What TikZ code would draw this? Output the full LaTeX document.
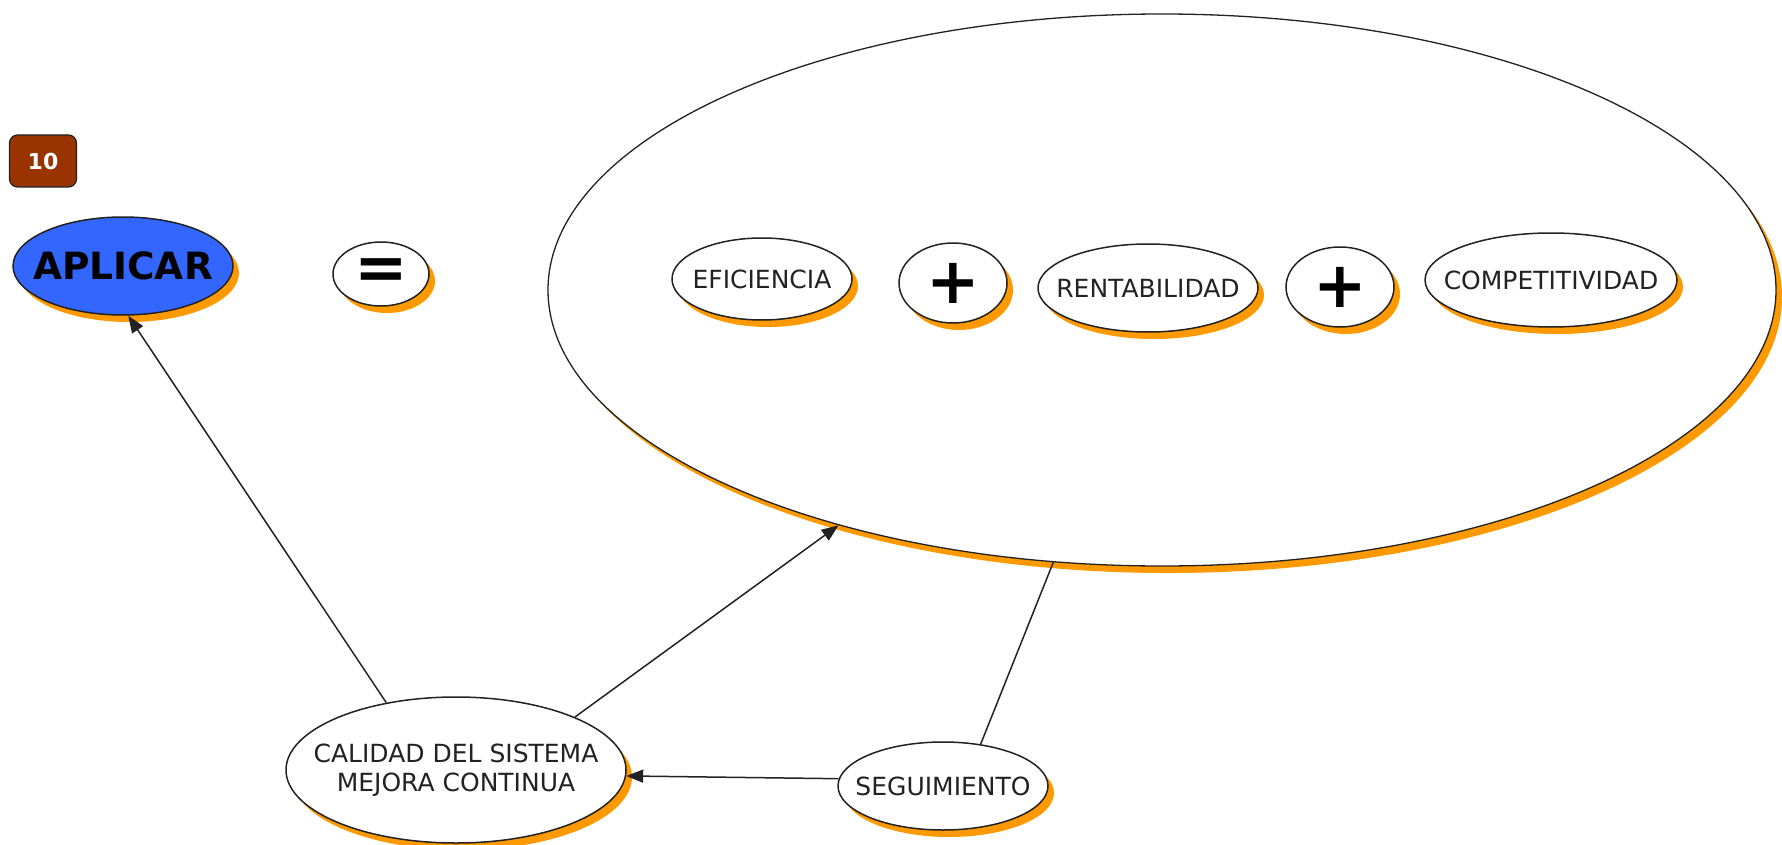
\documentclass[tikz,border=0pt]{standalone}
\usepackage{fontspec}
\setmainfont{DejaVu Sans}
\usetikzlibrary{shapes.geometric,shadows,arrows.meta}
\definecolor{shade}{HTML}{FF9900}
\definecolor{blueconcept}{HTML}{3366FF}
\definecolor{brownbadge}{HTML}{993300}
\definecolor{ink}{HTML}{222222}
% text that does not widen its ellipse: the ellipse size comes from the style
\newcommand{\ctext}[1]{\makebox[0pt]{#1}}
\begin{document}
\begin{tikzpicture}[x=1pt,y=-1pt,
  concept/.style={ellipse, draw=ink, line width=1.5pt, fill=white, inner sep=0pt,
    text=ink, font=\fontsize{25}{29}\selectfont, align=center,
    drop shadow={shadow xshift=6pt, shadow yshift=-7pt, fill=shade, opacity=1}},
  sign/.style={concept, text=black, font=\bfseries\fontsize{64}{64}\selectfont},
  link/.style={draw=ink, line width=1.5pt},
  arrowlink/.style={link, -{Triangle[length=17pt,width=13pt]}}]
\useasboundingbox (0,0) rectangle (1782,845);

% badge with the map number
\node[draw=ink, fill=brownbadge, rounded corners=8pt, line width=1.2pt,
  minimum width=67pt, minimum height=52pt, inner sep=0pt, text=white,
  font=\bfseries\fontsize{22}{22}\selectfont] (badge) at (43,161) {10};

% main concept and the equals sign
\node[concept, minimum width=220pt, minimum height=98pt, fill=blueconcept,
  text=black, font=\bfseries\fontsize{37.5}{37.5}\selectfont] (apl) at (123,266) {\ctext{APLICAR}};
\node[sign, minimum width=96pt, minimum height=64pt] (eq) at (381,274) {\ctext{=}};

% large grouping ellipse
\node[concept, line width=1.3pt, minimum width=1228pt, minimum height=552pt] (big) at (1162,290) {};

% the three results joined by plus signs
\node[concept, minimum width=180pt, minimum height=82pt] (efi) at (762,279) {\ctext{EFICIENCIA}};
\node[sign, minimum width=108pt, minimum height=80pt] (plusa) at (953,283) {\ctext{+}};
\node[concept, minimum width=220pt, minimum height=88pt] (ren) at (1148,288) {\ctext{RENTABILIDAD}};
\node[sign, minimum width=108pt, minimum height=80pt] (plusb) at (1340,287) {\ctext{+}};
\node[concept, minimum width=252pt, minimum height=94pt] (comp) at (1551,280) {\ctext{COMPETITIVIDAD}};

% lower concepts
\node[concept, minimum width=340pt, minimum height=146pt] (cal) at (456,770)
  {\ctext{CALIDAD DEL SISTEMA}\\\ctext{MEJORA CONTINUA}};
\node[concept, minimum width=210pt, minimum height=88pt] (seg) at (943,786) {\ctext{SEGUIMIENTO}};

% connectors
\draw[arrowlink] (cal.136) -- (apl.-84);
\draw[arrowlink] (cal.24) -- (big);
\draw[arrowlink] (seg.176) -- (cal.-2);
\draw[link] (seg.48) -- (big);
\end{tikzpicture}
\end{document}
